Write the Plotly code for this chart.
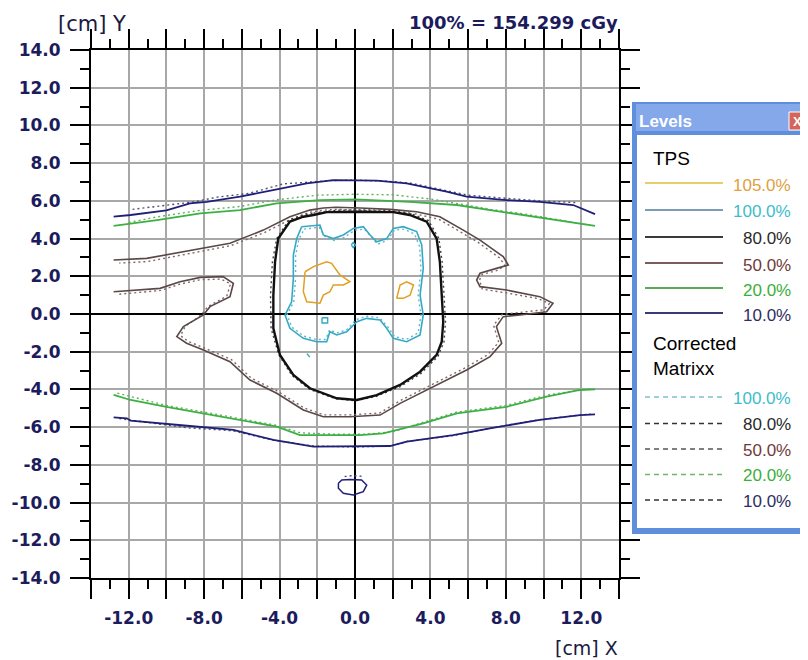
import plotly.graph_objects as go

# ---------------- data (cm) ----------------
tick_major = [-14, -12, -10, -8, -6, -4, -2, 0, 2, 4, 6, 8, 10, 12, 14]
tick_minor = [-13, -11, -9, -7, -5, -3, -1, 1, 3, 5, 7, 9, 11, 13]
x_labels = ["", "-12.0", "", "-8.0", "", "-4.0", "", "0.0", "", "4.0", "", "8.0", "", "12.0", ""]
y_labels = ["-14.0", "-12.0", "-10.0", "-8.0", "-6.0", "-4.0", "-2.0", "0.0",
            "2.0", "4.0", "6.0", "8.0", "10.0", "12.0", "14.0"]

# TPS isodose lines
tps10_top = [(-12.8, 5.16), (-11.9, 5.25), (-10.0, 5.5), (-8.75, 5.87), (-7.86, 5.95), (-6.1, 6.22),
             (-4.35, 6.57), (-2.56, 6.93), (-1.15, 7.1), (1.15, 7.07), (2.74, 6.93), (4.86, 6.49),
             (5.92, 6.22), (8.04, 6.04), (9.8, 5.95), (11.57, 5.78), (12.73, 5.3)]
tps20_top = [(-12.8, 4.67), (-10.5, 4.98), (-8.2, 5.34), (-6.1, 5.51), (-4.15, 5.87), (-1.86, 6.04),
             (0.0, 6.08), (2.9, 5.95), (5.4, 5.78), (7.16, 5.51), (8.9, 5.25), (10.7, 4.98), (12.73, 4.67)]
tps50 = [(-12.8, 1.18), (-10.34, 1.36), (-9.28, 1.71), (-8.2, 1.94), (-7.0, 1.98), (-6.45, 1.63),
         (-6.63, 0.92), (-7.69, 0.39), (-8.04, -0.05), (-9.1, -0.67), (-9.45, -1.2), (-8.93, -1.55),
         (-8.04, -1.91), (-6.63, -2.53), (-5.57, -3.5), (-4.15, -4.2), (-2.74, -5.09), (-1.68, -5.45),
         (-0.27, -5.45), (1.33, -5.36), (2.39, -4.74), (4.15, -3.85), (5.92, -2.97), (7.16, -2.26),
         (7.78, -1.55), (7.5, -0.67), (7.86, -0.14), (8.75, -0.05), (10.16, 0.12), (10.5, 0.57),
         (9.8, 0.92), (8.04, 1.27), (6.63, 1.45), (6.45, 1.8), (6.63, 2.16), (7.5, 2.42), (8.13, 2.6),
         (7.86, 3.04), (6.63, 3.92), (5.74, 4.45), (4.5, 5.16), (3.27, 5.42), (1.86, 5.55), (0.27, 5.62),
         (-1.0, 5.66), (-1.68, 5.62), (-2.4, 5.51), (-3.45, 5.16), (-4.86, 4.45), (-6.63, 3.75),
         (-9.1, 3.3), (-11.05, 2.95), (-12.8, 2.86)]
tps80 = [(-2.2, 5.25), (-1.5, 5.4), (0.1, 5.42), (2.03, 5.4), (2.9, 5.25), (3.8, 4.9), (4.33, 4.0),
         (4.5, 2.77), (4.6, 1.0), (4.68, -0.41), (4.6, -1.47), (4.33, -2.17), (3.45, -3.06), (2.39, -3.76),
         (1.15, -4.3), (0.1, -4.56), (-0.97, -4.47), (-2.39, -3.94), (-3.27, -3.23), (-3.98, -2.17),
         (-4.33, -0.76), (-4.33, 1.0), (-4.24, 2.77), (-4.07, 4.0), (-3.45, 4.9), (-2.74, 5.16), (-2.2, 5.25)]
tps100 = [(-2.83, 4.63), (-1.86, 4.72), (-1.68, 4.19), (-1.15, 4.0), (-0.62, 4.19), (-0.09, 4.54),
          (0.44, 4.63), (0.8, 4.19), (1.15, 3.83), (1.68, 4.0), (2.03, 4.54), (2.56, 4.63), (3.27, 4.37),
          (3.54, 3.66), (3.62, 2.42), (3.45, 1.0), (3.62, -0.05), (3.45, -1.11), (2.74, -1.47),
          (2.03, -1.29), (1.68, -0.76), (1.33, -0.32), (0.62, -0.23), (0.1, -0.41), (-0.44, -0.94),
          (-0.97, -1.11), (-1.33, -0.94), (-1.5, -1.47), (-2.03, -1.47), (-2.74, -1.29), (-3.45, -0.76),
          (-3.71, -0.05), (-3.36, 0.65), (-3.27, 1.89), (-3.27, 3.13), (-3.09, 4.0), (-2.83, 4.63)]
tps100_ring = [(-0.2, 3.66), (-0.09, 3.8), (0.03, 3.66), (-0.09, 3.52), (-0.2, 3.66)]
tps100_box = [(-1.75, -0.2), (-1.45, -0.2), (-1.45, -0.48), (-1.75, -0.48), (-1.75, -0.2)]
tps100_dash = [(-2.55, -2.1), (-2.4, -2.28)]
tps105_left = [(-2.65, 2.24), (-2.2, 2.51), (-1.5, 2.77), (-1.24, 2.69), (-0.8, 2.07), (-0.27, 1.71),
               (-0.62, 1.54), (-1.15, 1.54), (-1.33, 1.18), (-1.68, 1.0), (-1.86, 0.57), (-2.56, 0.65),
               (-2.74, 1.18), (-2.65, 2.24)]
tps105_right = [(2.21, 0.83), (2.39, 1.54), (2.74, 1.71), (3.1, 1.54), (2.92, 1.0), (2.56, 0.83), (2.21, 0.83)]
tps10_bot = [(-12.8, -5.48), (-12.1, -5.53), (-11.9, -5.66), (-10.16, -5.8), (-8.75, -5.94), (-6.45, -6.15),
             (-4.33, -6.68), (-2.21, -7.03), (0.27, -7.03), (1.86, -7.0), (2.74, -6.77), (5.21, -6.42),
             (7.16, -6.06), (9.8, -5.62), (11.93, -5.36), (12.73, -5.32)]
tps20_bot = [(-12.8, -4.29), (-11.9, -4.56), (-10.0, -4.92), (-8.04, -5.27), (-6.1, -5.62), (-4.15, -5.97),
             (-2.92, -6.42), (-1.68, -6.42), (0.27, -6.42), (1.5, -6.33), (3.62, -5.8), (5.4, -5.27),
             (8.04, -4.92), (10.16, -4.38), (11.93, -4.03), (12.73, -4.0)]
tps10_blob = [(-0.88, -8.98), (-0.7, -8.8), (-0.27, -8.77), (0.35, -8.8), (0.62, -9.07), (0.44, -9.42),
              (-0.09, -9.6), (-0.62, -9.51), (-0.88, -9.24), (-0.88, -8.98)]

# Corrected Matrixx isodose lines
mx10_top = [(-11.8, 5.55), (-10.0, 5.75), (-8.5, 5.95), (-7.3, 6.2), (-5.6, 6.4), (-3.8, 6.9), (-2.6, 7.0),
            (-1.2, 7.08), (0.0, 7.1), (1.5, 7.05), (2.9, 6.95), (4.5, 6.6), (6.0, 6.3), (7.2, 6.2),
            (8.5, 6.1), (9.8, 6.0), (11.75, 5.9)]
mx20_top = [(-12.0, 4.85), (-10.5, 5.15), (-8.2, 5.5), (-6.1, 5.7), (-4.2, 6.05), (-2.0, 6.3), (0.0, 6.35),
            (2.0, 6.32), (4.0, 6.1), (5.5, 5.85), (7.2, 5.55), (9.0, 5.3), (10.7, 5.0), (12.5, 4.7)]
mx50 = [(-12.5, 1.05), (-10.3, 1.25), (-9.3, 1.58), (-8.2, 1.82), (-7.1, 1.85), (-6.6, 1.6), (-6.8, 0.95),
        (-7.8, 0.4), (-8.15, -0.05), (-9.0, -0.65), (-9.25, -1.15), (-8.85, -1.45), (-8.0, -1.8),
        (-6.55, -2.42), (-5.5, -3.4), (-4.1, -4.1), (-2.7, -4.98), (-1.65, -5.35), (-0.27, -5.35),
        (1.3, -5.25), (2.35, -4.62), (4.1, -3.72), (5.85, -2.85), (7.05, -2.15), (7.62, -1.5),
        (7.35, -0.6), (7.8, -0.02), (8.7, 0.08), (10.0, 0.22), (10.3, 0.55), (9.7, 0.82), (8.0, 1.12),
        (6.75, 1.32), (6.6, 1.8), (6.75, 2.1), (7.5, 2.3), (7.95, 2.55), (7.7, 2.95), (6.5, 3.82),
        (5.65, 4.32), (4.45, 5.02), (3.25, 5.3), (1.85, 5.42), (0.3, 5.5), (-1.0, 5.55), (-1.7, 5.5),
        (-2.4, 5.4), (-3.4, 5.02), (-4.8, 4.32), (-6.6, 3.62), (-9.0, 3.15), (-11.0, 2.78), (-12.5, 2.7)]
mx80 = [(-2.2, 5.35), (-1.0, 5.5), (0.3, 5.52), (1.8, 5.5), (2.9, 5.35), (3.9, 4.95), (4.45, 4.0),
        (4.62, 2.77), (4.72, 1.0), (4.8, -0.41), (4.72, -1.47), (4.4, -2.25), (3.5, -3.15), (2.4, -3.85),
        (1.1, -4.38), (0.0, -4.6), (-1.0, -4.5), (-2.4, -4.0), (-3.35, -3.25), (-4.05, -2.15),
        (-4.45, -0.76), (-4.48, 1.0), (-4.38, 2.77), (-4.15, 4.0), (-3.5, 5.0), (-2.75, 5.25), (-2.2, 5.35)]
mx100 = [(-2.7, 4.5), (-1.9, 4.6), (-1.55, 4.05), (-1.1, 3.9), (-0.6, 4.05), (0.0, 4.45), (0.5, 4.5),
         (0.9, 4.05), (1.2, 3.7), (1.7, 3.9), (2.1, 4.45), (2.6, 4.5), (3.15, 4.25), (3.42, 3.6),
         (3.5, 2.4), (3.35, 1.0), (3.5, -0.05), (3.35, -1.0), (2.72, -1.35), (2.1, -1.2), (1.75, -0.7),
         (1.3, -0.2), (0.6, -0.12), (0.05, -0.3), (-0.45, -0.85), (-0.95, -1.0), (-1.35, -0.85),
         (-1.55, -1.35), (-2.05, -1.35), (-2.7, -1.18), (-3.35, -0.7), (-3.6, -0.05), (-3.25, 0.65),
         (-3.15, 1.9), (-3.15, 3.1), (-2.98, 3.95), (-2.7, 4.5)]
mx20_bot = [(-12.6, -4.2), (-10.0, -4.85), (-8.0, -5.2), (-6.1, -5.55), (-4.2, -5.9), (-2.9, -6.3),
            (-1.0, -6.38), (0.5, -6.38), (2.0, -6.25), (3.6, -5.75), (5.4, -5.2), (8.0, -4.85),
            (10.2, -4.3), (12.6, -3.95)]
mx10_bot = [(-12.5, -5.55), (-10.2, -5.85), (-8.75, -6.05), (-7.0, -6.15), (-6.45, -6.2), (-4.3, -6.7),
            (-2.2, -7.0), (0.0, -7.05), (1.9, -7.0), (2.8, -6.75), (5.2, -6.45), (7.2, -6.05),
            (9.8, -5.6), (12.5, -5.3)]
mx10_blob = [(-0.55, -8.62), (-0.2, -8.58), (0.2, -8.58), (0.5, -8.64)]

levels_tps = ["105.0%", "100.0%", "80.0%", "50.0%", "20.0%", "10.0%"]
levels_mx = ["100.0%", "80.0%", "50.0%", "20.0%", "10.0%"]

# ---------------- styles ----------------
C10, C20, C50, C80, C100, C105 = "#1f1f78", "#3cb043", "#5a4848", "#111111", "#35a9c4", "#e0a020"
M10, M20, M50, M80, M100 = "#505070", "#60b060", "#806868", "#404040", "#60b8d0"

# page body has an 8px default margin; figure is laid out so the plot
# area sits at screen pixels x 91..619, y 50..578
OFF = 8
W, H = 808 - OFF, 660 - OFF
L, T = 91 - OFF, 50 - OFF
PW = PH = 528
R, B = W - L - PW, H - T - PH


def px(xs):  # screen x -> paper
    return (xs - 91) / PW


def py(ys):  # screen y -> paper
    return (578 - ys) / PH


fig = go.Figure()


def add(pts, color, width, dash=None):
    fig.add_trace(go.Scatter(
        x=[p[0] for p in pts], y=[p[1] for p in pts], mode="lines",
        line=dict(color=color, width=width, dash=dash), showlegend=False, hoverinfo="skip"))


DOT = "2px,3px"
for pts, col in [(mx10_top, M10), (mx20_top, M20), (mx50, M50), (mx80, M80), (mx100, M100),
                 (mx20_bot, M20), (mx10_bot, M10), (mx10_blob, M10)]:
    add(pts, col, 1.4, DOT)

for pts, col, w in [(tps10_top, C10, 1.8), (tps20_top, C20, 1.8), (tps50, C50, 1.6), (tps80, C80, 2.4),
                    (tps100, C100, 1.6), (tps100_ring, C100, 1.4), (tps100_box, C100, 1.4),
                    (tps100_dash, C100, 1.4), (tps105_left, C105, 1.5), (tps105_right, C105, 1.5),
                    (tps10_bot, C10, 1.8), (tps20_bot, C20, 1.8), (tps10_blob, C10, 1.5)]:
    add(pts, col, w)

axis_common = dict(
    range=[-14, 14], tickmode="array", tickvals=tick_major,
    ticks="outside", ticklen=19, tickwidth=2, tickcolor="black",
    showline=True, linecolor="black", linewidth=2, mirror="ticks",
    showgrid=True, gridcolor="#a8a8a8", gridwidth=1.5,
    zeroline=True, zerolinecolor="black", zerolinewidth=2,
    minor=dict(tickmode="array", tickvals=tick_minor, ticks="outside", ticklen=9,
               tickwidth=2, tickcolor="black", showgrid=False),
    tickfont=dict(family="DejaVu Sans", size=17, color="#1c1c5c", weight="bold"),
    fixedrange=True, automargin=False,
)

fig.update_layout(
    width=W, height=H, autosize=False,
    margin=dict(l=L, r=R, t=T, b=B, pad=0),
    paper_bgcolor="white", plot_bgcolor="white",
    xaxis=dict(axis_common, ticktext=x_labels, ticklabelstandoff=5),
    yaxis=dict(axis_common, ticktext=y_labels, ticklabelstandoff=6),
    showlegend=False,
)

shapes = []
annotations = []


def text(xs, ys, s, size, color, anchor="left", family="Liberation Sans", bold=False):
    annotations.append(dict(
        xref="paper", yref="paper", x=px(xs), y=py(ys), text=s, showarrow=False,
        xanchor=anchor, yanchor="middle", borderpad=0,
        font=dict(family=family, size=size, color=color, weight="bold" if bold else "normal")))


def rect(x0, y0, x1, y1, fill, line=None, lw=0):
    shapes.append(dict(type="rect", xref="paper", yref="paper", x0=px(x0), x1=px(x1),
                       y0=py(y1), y1=py(y0), fillcolor=fill,
                       line=dict(color=line or fill, width=lw), layer="above"))


def hline(x0, x1, ys, color, width, dash=None):
    shapes.append(dict(type="line", xref="paper", yref="paper", x0=px(x0), x1=px(x1),
                       y0=py(ys), y1=py(ys), line=dict(color=color, width=width, dash=dash),
                       layer="above"))


# axis captions
text(57, 24, "[cm] Y", 21, "#1a1a40", "left", "DejaVu Sans")
text(619, 22, "100% = 154.299 cGy", 18, "#1c1c5c", "right", "DejaVu Sans", True)
text(619, 648, "[cm] X", 19, "#1a1a40", "right", "DejaVu Sans")

# Levels window
rect(632, 102, 812, 534, "#5f8fdc")
rect(636, 104, 812, 131, "#84a8ea")
rect(637, 135, 812, 528, "#ffffff")
rect(789, 112, 806, 130, "#d5645a", "#ffffff", 1)
text(638, 121, "Levels", 17, "#ffffff", "left", "Liberation Sans", True)
text(797.5, 121, "X", 13, "#ffffff", "center", "Liberation Sans", True)

text(652, 158, "TPS", 19, "#000000")
tps_line_cols = ["#e6cf6a", "#7b9db5", "#3a3a3a", "#7a5c5c", "#5aaa5a", "#3a3a7a"]
tps_text_cols = ["#e0a040", "#3cbccc", "#2a2a2a", "#703a3a", "#3aae3a", "#2e2e5e"]
tps_rows = [183, 210, 237, 263, 288, 313]
for lab, lc, tc, yy in zip(levels_tps, tps_line_cols, tps_text_cols, tps_rows):
    hline(645, 723, yy, lc, 2)
    text(792, yy + 2, lab, 17, tc, "right")

text(652, 343, "Corrected", 19, "#000000")
text(652, 368, "Matrixx", 19, "#000000")
mx_line_cols = ["#7cc0d0", "#333333", "#555555", "#6ab86a", "#333333"]
mx_text_cols = ["#3cbccc", "#2a2a2a", "#703a3a", "#3aae3a", "#2e2e5e"]
mx_rows = [397, 423.5, 449, 474.5, 500]
for lab, lc, tc, yy in zip(levels_mx, mx_line_cols, mx_text_cols, mx_rows):
    hline(645, 723, yy, lc, 1.5, "5px,4px")
    text(792, yy + 1, lab, 17, tc, "right")

fig.update_layout(shapes=shapes, annotations=annotations)
fig.write_html("out.html")
